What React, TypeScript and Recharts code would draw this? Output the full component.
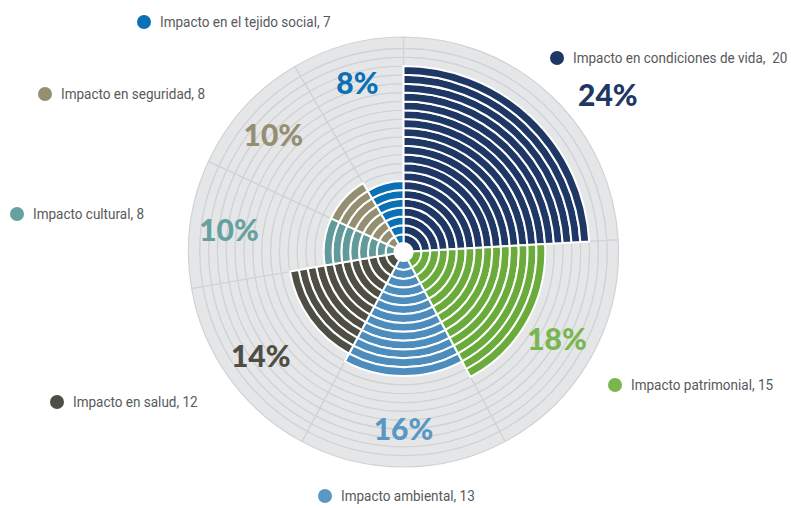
import React from 'react';
import { PieChart, Pie, Cell } from 'recharts';

const categories = [
  'Impacto en condiciones de vida',
  'Impacto patrimonial',
  'Impacto ambiental',
  'Impacto en salud',
  'Impacto cultural',
  'Impacto en seguridad',
  'Impacto en el tejido social',
];
const counts = [20, 15, 13, 12, 8, 8, 7];
const legendTexts = [
  'Impacto en condiciones de vida,  20',
  'Impacto patrimonial, 15',
  'Impacto ambiental, 13',
  'Impacto en salud, 12',
  'Impacto cultural, 8',
  'Impacto en seguridad, 8',
  'Impacto en el tejido social, 7',
];

const colors = ['#1e3765', '#6aab3c', '#4c8dbd', '#4f4e44', '#62999a', '#958f72', '#0b70b4'];
const textColors = ['#1e3765', '#7ab650', '#5a97c4', '#4f4e44', '#67a19f', '#958f72', '#0b70b4'];

// legend dot centres (page px)
const legendPos = [
  { x: 557, y: 58 },
  { x: 615, y: 385 },
  { x: 325, y: 496 },
  { x: 57, y: 402 },
  { x: 17, y: 214 },
  { x: 45, y: 94 },
  { x: 144, y: 22 },
];

const W = 791;
const H = 508;
const CX = 403.5;
const CY = 252;
const HOLE = 9;
const RING_W = 8.85;
const RINGS = 23;
const OUTER = 215;

const sliceData = categories.map((name, i) => ({ name, value: counts[i] }));
const total = counts.reduce((a, b) => a + b, 0);
const rings = Array.from({ length: RINGS }, (_, i) => i + 1);
const maxCount = Math.max(...counts);
const RAD = Math.PI / 180;

const renderPct = (props: any) => {
  const { cx, cy, midAngle, index, value } = props;
  // biggest slice fills its wedge, so its label sits outside the disc
  const r = index === 0 ? 258 : 176;
  const a = index === 0 ? midAngle - 9 : midAngle;
  const x = cx + r * Math.cos(-a * RAD);
  const y = cy + r * Math.sin(-a * RAD);
  return (
    <text
      key={'pct' + index}
      x={x}
      y={y}
      fill={textColors[index]}
      textAnchor="middle"
      dominantBaseline="central"
      style={{ fontFamily: 'Lato, sans-serif', fontWeight: 900, fontSize: 30 }}
    >
      {Math.round((value / total) * 100)}%
    </text>
  );
};

export default function App() {
  return (
    <div style={{ position: 'absolute', left: 0, top: 0, width: W, height: H, background: '#fff', overflow: 'hidden' }}>
      <PieChart width={W} height={H} margin={{ top: 0, right: 0, bottom: 0, left: 0 }}>
        {rings.map((k) => (
          <Pie
            key={'bg' + k}
            data={sliceData}
            dataKey="value"
            cx={CX}
            cy={CY}
            innerRadius={HOLE + (k - 1) * RING_W}
            outerRadius={k === RINGS ? OUTER : HOLE + k * RING_W}
            startAngle={90}
            endAngle={-270}
            isAnimationActive={false}
          >
            {counts.map((c, i) => (
              <Cell key={i} fill="#e5e6e8" stroke="#d1d2d4" strokeWidth={1.2} />
            ))}
          </Pie>
        ))}
        {rings
          .filter((k) => k <= maxCount)
          .map((k) => (
            <Pie
              key={'ring' + k}
              data={sliceData}
              dataKey="value"
              cx={CX}
              cy={CY}
              innerRadius={HOLE + (k - 1) * RING_W}
              outerRadius={HOLE + k * RING_W}
              startAngle={90}
              endAngle={-270}
              isAnimationActive={false}
            >
              {counts.map((c, i) => (
                <Cell
                  key={i}
                  fill={c >= k ? colors[i] : 'none'}
                  stroke={c >= k ? '#ffffff' : 'none'}
                  strokeWidth={2}
                />
              ))}
            </Pie>
          ))}
        <Pie
          data={sliceData}
          dataKey="value"
          cx={CX}
          cy={CY}
          innerRadius={0}
          outerRadius={OUTER}
          startAngle={90}
          endAngle={-270}
          fill="none"
          stroke="none"
          label={renderPct}
          labelLine={false}
          isAnimationActive={false}
        />
      </PieChart>
      {legendTexts.map((t, i) => (
        <div
          key={t}
          style={{
            position: 'absolute',
            left: legendPos[i].x - 7,
            top: legendPos[i].y - 10,
            height: 20,
            display: 'flex',
            alignItems: 'center',
            whiteSpace: 'pre',
            fontFamily: 'Roboto, sans-serif',
            fontSize: 15,
            color: '#58595b',
          }}
        >
          <span
            style={{
              width: 14,
              height: 14,
              borderRadius: 7,
              background: textColors[i],
              marginRight: 9,
              flexShrink: 0,
            }}
          />
          <span style={{ display: 'inline-block', transform: 'scaleX(0.9)', transformOrigin: 'left center' }}>{t}</span>
        </div>
      ))}
    </div>
  );
}
